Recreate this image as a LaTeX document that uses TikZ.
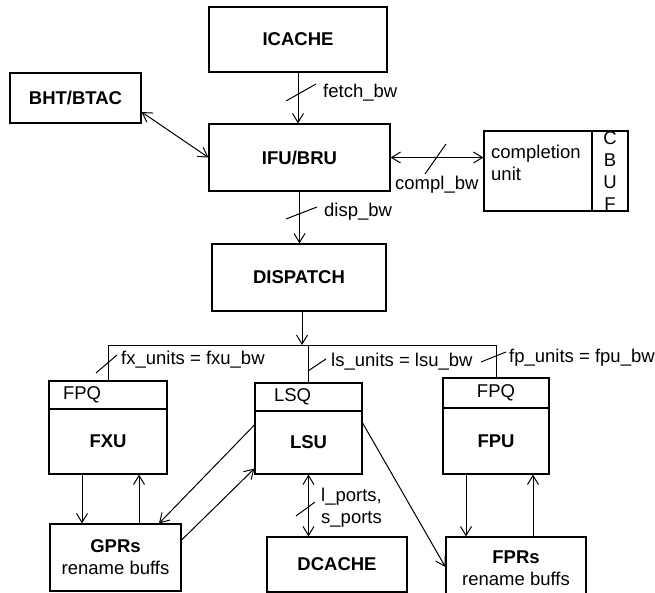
\documentclass[tikz,border=0pt]{standalone}
\usepackage{fontspec}
\setmainfont{Liberation Sans}
\usetikzlibrary{arrows.meta,calc}
\begin{document}
\begin{tikzpicture}[x=1pt,y=-1pt,
  every node/.style={font=\fontsize{18.5}{22}\selectfont},
  box/.style={draw,line width=1.2pt,inner sep=0pt,align=center},
  lbl/.style={inner sep=0pt,anchor=west,align=left},
  conn/.style={line width=1pt},
  arr/.style={conn,-{Straight Barb[length=9pt,width=11pt]}},
  darr/.style={conn,{Straight Barb[length=9pt,width=11pt]}-{Straight Barb[length=9pt,width=11pt]}},
  tick/.style={line width=1pt}]
\useasboundingbox (0,0) rectangle (655,593);
% boxes
\node[box,minimum width=178pt,minimum height=65pt] (icache) at (298,39.5) {\bfseries ICACHE};
\node[box,minimum width=131pt,minimum height=50pt] (bht) at (75.5,98) {\bfseries BHT/BTAC};
\node[box,minimum width=181pt,minimum height=67pt] (ifu) at (299.5,157.5) {\bfseries IFU/BRU};
\node[box,minimum width=108pt,minimum height=80pt] (compl) at (538,171) {};
\node[lbl] (compltext) at (491,163) {completion\\unit};
\node[box,minimum width=36pt,minimum height=80pt] (cbuf) at (610,171) {C\\B\\U\\F};
\node[box,minimum width=174pt,minimum height=67pt] (dispatch) at (299,277.5) {\bfseries DISPATCH};
% FXU
\node[box,minimum width=118pt,minimum height=28pt,text width=90pt,inner xsep=14pt,align=left] (fxq) at (108,395) {FPQ};
\node[box,minimum width=118pt,minimum height=65pt] (fxu) at (108,441.5) {\bfseries FXU};
% LSU
\node[box,minimum width=107pt,minimum height=28pt,text width=69pt,inner xsep=19pt,align=left] (lsq) at (308.5,397) {LSQ};
\node[box,minimum width=107pt,minimum height=63pt] (lsu) at (308.5,442.5) {\bfseries LSU};
% FPU
\node[box,minimum width=106pt,minimum height=30pt] (fpq) at (496,393) {FPQ};
\node[box,minimum width=106pt,minimum height=66pt] (fpu) at (496,441) {\bfseries FPU};
% bottom
\node[box,minimum width=131pt,minimum height=67pt] (gprs) at (115.5,557.5) {\textbf{GPRs}\\rename buffs};
\node[box,minimum width=140pt,minimum height=55pt] (dcache) at (337,564.5) {\bfseries DCACHE};
\node[box,minimum width=140pt,minimum height=62pt] (fprs) at (516,568) {\textbf{FPRs}\\rename buffs};
% connectors
\draw[arr] (icache.south) -- (icache.south |- ifu.north);
\draw[tick] (286,101) -- (316,84);
\node[lbl] (fetchlbl) at (323,93) {fetch\_bw};
\draw[darr] ($(bht.east)+(0,14)$) -- (ifu.west);
\draw[darr] (ifu.east) -- (ifu.east -| compl.west);
\draw[tick] (425,174) -- (446,144);
\node[lbl] (compllbl) at (395,185) {compl\_bw};
\draw[arr] (ifu.south) -- (ifu.south |- dispatch.north);
\draw[tick] (286,219) -- (317,207);
\node[lbl] (displbl) at (324,212) {disp\_bw};
\coordinate (bus) at (302,345);
\draw[arr] (dispatch.south -| bus) -- (bus);
\draw[conn] (fxq.north) -- (fxq.north |- bus) -- (fpq.north |- bus) -- (fpq.north);
\draw[conn] (lsq.north |- bus) -- (lsq.north);
\draw[tick] (96,373) -- (117,355);
\node[lbl] (fxlbl) at (121,360) {fx\_units = fxu\_bw};
\draw[tick] (308,371) -- (326,359);
\node[lbl] (lslbl) at (331,362) {ls\_units = lsu\_bw};
\draw[tick] (481,362) -- (506,352);
\node[lbl] (fplbl) at (509,358) {fp\_units = fpu\_bw};
% FXU <-> GPRs
\coordinate (fxa) at ($(fxu.south)+(-26,0)$);
\coordinate (fxb) at ($(fxu.south)+(31,0)$);
\draw[arr] (fxa) -- (fxa |- gprs.north);
\draw[arr] (fxb |- gprs.north) -- (fxb);
% LSU <-> GPRs
\draw[arr] ($(lsu.west)+(0,-17.5)$) -- ($(gprs.north)+(43.5,0)$);
\draw[arr] ($(gprs.east)+(0,-17.5)$) -- ($(lsu.south west)+(0,-6)$);
% LSU <-> DCACHE
\draw[darr] (lsu.south) -- (lsu.south |- dcache.north);
\draw[tick] (296,516) -- (315,502);
\node[lbl] (portlbl) at (321,508) {l\_ports,\\s\_ports};
% LSU -> FPRs
\draw[arr] ($(lsu.east)+(0,-19.5)$) -- ($(fprs.west)+(0,-1)$);
% FPU <-> FPRs
\coordinate (fpa) at ($(fpu.south)+(-30,0)$);
\coordinate (fpb) at ($(fpu.south)+(37,0)$);
\draw[arr] (fpa) -- (fpa |- fprs.north);
\draw[arr] (fpb |- fprs.north) -- (fpb);
\end{tikzpicture}
\end{document}
